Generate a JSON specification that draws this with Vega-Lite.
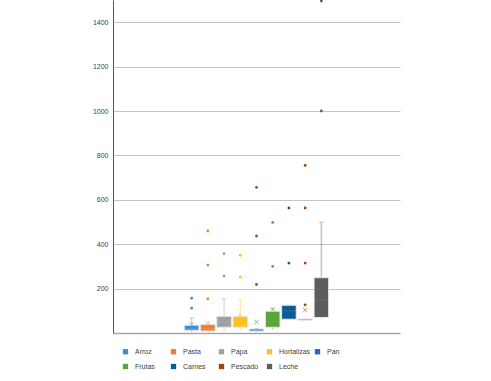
{
  "$schema": "https://vega.github.io/schema/vega-lite/v6.json",
  "width": 287,
  "height": 333,
  "autosize": {"type": "none"},
  "padding": {"left": 113, "top": 0, "right": 91, "bottom": 48},
  "background": "white",
  "config": {
    "font": "Liberation Sans",
    "view": {"stroke": null},
    "axis": {"labelFont": "Liberation Sans", "labelFontSize": 7, "labelColor": "#404040"},
    "legend": {"labelFont": "Liberation Sans", "labelFontSize": 7, "labelColor": "#404040"}
  },
  "datasets": {
    "stats": [
      {"serie": "Arroz", "lower": 3, "q1": 12, "median": 20, "q3": 35, "upper": 68, "mean": 38},
      {"serie": "Pasta", "lower": 3, "q1": 9, "median": 20, "q3": 38, "upper": 38, "mean": 44},
      {"serie": "Papa", "lower": 10, "q1": 26, "median": 50, "q3": 75, "upper": 155, "mean": 65},
      {"serie": "Hortalizas", "lower": 10, "q1": 26, "median": 50, "q3": 75, "upper": 148, "mean": 80},
      {"serie": "Pan", "lower": 5, "q1": 9, "median": 12, "q3": 18, "upper": 20, "mean": 50},
      {"serie": "Frutas", "lower": 15, "q1": 26, "median": 50, "q3": 98, "upper": 110, "mean": 108},
      {"serie": "Carnes", "lower": 62, "q1": 62, "median": 100, "q3": 125, "upper": 125, "mean": 110},
      {"serie": "Pescado", "lower": 58, "q1": 58, "median": 60, "q3": 63, "upper": 63, "mean": 103},
      {"serie": "Leche", "lower": 65, "q1": 70, "median": 150, "q3": 249, "upper": 500, "mean": 174}
    ],
    "outliers": [
      {"serie": "Arroz", "value": 112}, {"serie": "Arroz", "value": 157},
      {"serie": "Pasta", "value": 154}, {"serie": "Pasta", "value": 306}, {"serie": "Pasta", "value": 460},
      {"serie": "Papa", "value": 257}, {"serie": "Papa", "value": 357},
      {"serie": "Hortalizas", "value": 252}, {"serie": "Hortalizas", "value": 350},
      {"serie": "Pan", "value": 219}, {"serie": "Pan", "value": 437}, {"serie": "Pan", "value": 656},
      {"serie": "Frutas", "value": 300}, {"serie": "Frutas", "value": 498},
      {"serie": "Carnes", "value": 315}, {"serie": "Carnes", "value": 563},
      {"serie": "Pescado", "value": 127}, {"serie": "Pescado", "value": 315}, {"serie": "Pescado", "value": 563}, {"serie": "Pescado", "value": 755},
      {"serie": "Leche", "value": 1000}, {"serie": "Leche", "value": 1495}
    ]
  },
  "encoding": {
    "x": {
      "field": "serie", "type": "nominal",
      "scale": {
        "domain": ["_a", "_b", "_c", "_d", "Arroz", "Pasta", "Papa", "Hortalizas", "Pan", "Frutas", "Carnes", "Pescado", "Leche", "_e", "_f", "_g", "_h"],
        "paddingInner": 0.1, "paddingOuter": 0.4
      },
      "axis": {"title": null, "labels": false, "ticks": false, "domainColor": "#a6a6a6", "domainWidth": 1.5}
    },
    "color": {
      "field": "serie", "type": "nominal",
      "scale": {
        "domain": ["Arroz", "Pasta", "Papa", "Hortalizas", "Pan", "Frutas", "Carnes", "Pescado", "Leche"],
        "range": ["#3C8DD6", "#F47C2C", "#A0A0A0", "#FFBF1F", "#2563C4", "#59A43B", "#0E5A95", "#A5400F", "#5C5C5C"]
      },
      "legend": {
        "title": null, "orient": "none", "direction": "horizontal", "columns": 5,
        "legendX": 9, "legendY": 348, "symbolType": "square", "symbolSize": 28,
        "symbolOpacity": 1, "symbolStrokeWidth": 0, "labelOffset": 6, "gridAlign": "all",
        "columnPadding": 3, "rowPadding": 7, "padding": 0
      }
    }
  },
  "layer": [
    {
      "data": {"name": "stats"},
      "mark": {"type": "rule", "opacity": 0.35, "strokeWidth": 1.5},
      "encoding": {
        "y": {"field": "lower", "type": "quantitative", "scale": {"domain": [0, 1500], "nice": false},
          "axis": {"title": null, "values": [200, 400, 600, 800, 1000, 1200, 1400], "format": "d", "ticks": false, "labelPadding": 5,
            "gridColor": "#c4c4c4", "gridWidth": 1.2, "domain": true, "domainColor": "#555555", "domainWidth": 1}},
        "y2": {"field": "upper"}
      }
    },
    {
      "data": {"name": "stats"},
      "mark": {"type": "tick", "opacity": 0.35, "size": 5, "thickness": 1},
      "encoding": {"y": {"field": "upper", "type": "quantitative"}}
    },
    {
      "data": {"name": "stats"},
      "mark": {"type": "bar", "stroke": "#e6e6e6", "strokeWidth": 1},
      "encoding": {
        "y": {"field": "q1", "type": "quantitative"},
        "y2": {"field": "q3"}
      }
    },
    {
      "data": {"name": "stats"},
      "mark": {"type": "tick", "opacity": 0.1, "thickness": 1},
      "encoding": {"y": {"field": "median", "type": "quantitative"}, "color": {"value": "#ffffff"}}
    },
    {
      "data": {"name": "stats"},
      "mark": {"type": "point", "shape": "M-1,-1L1,1M1,-1L-1,1", "size": 20, "filled": false, "strokeWidth": 1, "opacity": 0.55},
      "encoding": {"y": {"field": "mean", "type": "quantitative"}}
    },
    {
      "data": {"name": "outliers"},
      "mark": {"type": "circle", "size": 8, "opacity": 1},
      "encoding": {"y": {"field": "value", "type": "quantitative"}}
    }
  ]
}
